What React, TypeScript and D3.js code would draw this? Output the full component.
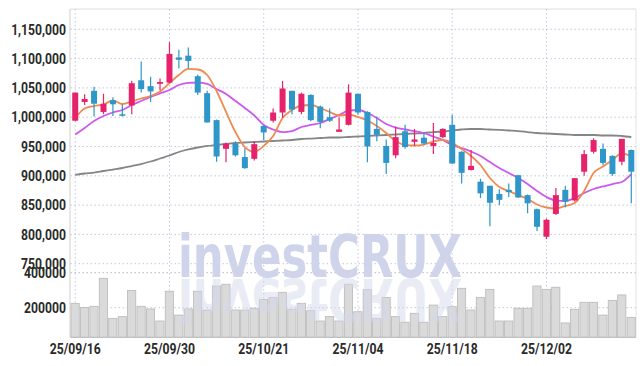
import React from 'react'
import * as d3 from 'd3'

// trading days shown (yy/mm/dd)
const dates = [
  '25/09/16', '25/09/17', '25/09/18', '25/09/19', '25/09/22', '25/09/23', '25/09/24', '25/09/25', '25/09/26', '25/09/29',
  '25/09/30', '25/10/01', '25/10/02', '25/10/10', '25/10/13', '25/10/14', '25/10/15', '25/10/16', '25/10/17', '25/10/20',
  '25/10/21', '25/10/22', '25/10/23', '25/10/24', '25/10/27', '25/10/28', '25/10/29', '25/10/30', '25/10/31', '25/11/03',
  '25/11/04', '25/11/05', '25/11/06', '25/11/07', '25/11/10', '25/11/11', '25/11/12', '25/11/13', '25/11/14', '25/11/17',
  '25/11/18', '25/11/19', '25/11/20', '25/11/21', '25/11/24', '25/11/25', '25/11/26', '25/11/27', '25/11/28', '25/12/01',
  '25/12/02', '25/12/03', '25/12/04', '25/12/05', '25/12/08', '25/12/09', '25/12/10', '25/12/11', '25/12/12', '25/12/15',
]

const open = [
  994000, 1026000, 1045000, 1009000, 1029000, 1005000, 1020000, 1063000, 1053000, 1057000,
  1059000, 1102000, 1105000, 1070000, 1041000, 995000, 946000, 955000, 932000, 929000,
  985000, 994000, 1008000, 1045000, 1009000, 1038000, 1018000, 1000000, 975000, 987000,
  1040000, 1009000, 980000, 951000, 935000, 976000, 958000, 965000, 951000, 966000,
  987000, 941000, 910000, 890000, 883000, 869000, 876000, 901000, 867000, 843000,
  796000, 835000, 876000, 858000, 907000, 941000, 946000, 934000, 924000, 944000,
]
const high = [
  1042000, 1039000, 1052000, 1040000, 1034000, 1022000, 1062000, 1095000, 1069000, 1066000,
  1128000, 1115000, 1119000, 1073000, 1045000, 996000, 957000, 959000, 947000, 958000,
  987000, 1015000, 1062000, 1045000, 1042000, 1039000, 1020000, 1015000, 1000000, 1056000,
  1040000, 1010000, 1001000, 962000, 984000, 987000, 980000, 973000, 990000, 981000,
  1004000, 942000, 944000, 895000, 883000, 877000, 887000, 902000, 868000, 844000,
  827000, 879000, 883000, 896000, 944000, 964000, 955000, 935000, 963000, 945000,
]
const low = [
  993000, 1021000, 1001000, 1005000, 1002000, 1001000, 1005000, 1042000, 1026000, 1046000,
  1058000, 1083000, 1083000, 1038000, 991000, 924000, 923000, 933000, 912000, 926000,
  961000, 991000, 999000, 1005000, 1005000, 993000, 981000, 992000, 975000, 986000,
  1004000, 923000, 959000, 903000, 930000, 946000, 951000, 953000, 937000, 964000,
  920000, 887000, 909000, 862000, 814000, 850000, 864000, 862000, 836000, 806000,
  792000, 833000, 846000, 856000, 900000, 938000, 918000, 900000, 918000, 853000,
]
const close = [
  1042000, 1031000, 1023000, 1023000, 1022000, 1004000, 1058000, 1048000, 1044000, 1060000,
  1108000, 1098000, 1096000, 1042000, 991000, 933000, 955000, 935000, 913000, 954000,
  974000, 1008000, 1049000, 1013000, 1040000, 995000, 992000, 994000, 979000, 1042000,
  1008000, 950000, 970000, 922000, 966000, 949000, 962000, 955000, 956000, 980000,
  921000, 905000, 917000, 870000, 854000, 859000, 872000, 863000, 853000, 813000,
  825000, 867000, 856000, 896000, 937000, 961000, 922000, 903000, 963000, 907000,
]
const volume = [
  225000, 202000, 208000, 368000, 139000, 149000, 299000, 208000, 193000, 124000,
  294000, 158000, 193000, 294000, 187000, 324000, 334000, 187000, 187000, 197000,
  248000, 259000, 288000, 191000, 225000, 183000, 124000, 149000, 124000, 334000,
  177000, 303000, 139000, 259000, 149000, 117000, 168000, 117000, 215000, 149000,
  206000, 311000, 187000, 259000, 305000, 124000, 124000, 197000, 197000, 324000,
  305000, 317000, 113000, 191000, 231000, 231000, 158000, 242000, 273000, 145000,
]

// moving averages
const ma5 = [
  998600, 1014800, 1019100, 1021700, 1028500, 1022500, 1026800, 1031900, 1036200, 1043900,
  1058400, 1072000, 1082300, 1081400, 1072000, 1044700, 1008900, 974700, 949100, 941100,
  950900, 967900, 998600, 1012300, 1020000, 1020800, 1015700, 1008900, 1002900, 1004600,
  1000300, 994400, 985000, 973000, 959400, 952600, 951700, 953400, 958500, 961100,
  956000, 945700, 933800, 918400, 896200, 880900, 874100, 867200, 860400, 851000,
  845900, 844200, 848500, 853600, 874100, 904800, 915900, 927000, 938100, 933000,
]
const ma20 = [
  970500, 981600, 993500, 1002000, 1008000, 1012300, 1020800, 1027600, 1034500, 1040400,
  1046400, 1054900, 1058400, 1059200, 1056700, 1048100, 1039600, 1027600, 1015700, 1002900,
  986700, 979000, 974700, 976400, 983300, 986700, 990100, 996900, 1003800, 1011400,
  1012300, 1007200, 998600, 988400, 982400, 979000, 976400, 973000, 967100, 961100,
  952600, 947400, 941500, 933800, 923500, 913300, 904800, 896200, 886000, 874100,
  863800, 857800, 857000, 862100, 870700, 877500, 881800, 886000, 889500, 903000,
]
const ma60 = [
  901400, 903900, 905600, 908200, 910700, 913300, 916700, 920100, 924400, 929500,
  934600, 940600, 944900, 948300, 950900, 952600, 954300, 956000, 956800, 957700,
  958500, 959400, 960200, 961100, 962800, 963600, 964500, 965400, 965400, 966200,
  967100, 967900, 968800, 969600, 970500, 971300, 972200, 973000, 974700, 975600,
  977300, 979000, 979900, 979900, 979000, 978200, 977300, 976400, 974700, 973000,
  972200, 971300, 970500, 969600, 969600, 969600, 968800, 968800, 967900, 966200,
]

const priceTicks = [750000, 800000, 850000, 900000, 950000, 1000000, 1050000, 1100000, 1150000]
const volumeTicks = [200000, 400000]
const dateTickIndex = [0, 10, 20, 30, 40, 50]

const W = 644
const H = 366
const left = 70.5
const right = 636
const top = 9
const volTop = 272.7
const volBottom = 337.3

const UP = '#e6226a'
const DOWN = '#2e96c8'
const GRID = '#c6c8dc'
const FONT = "Roboto, 'Liberation Sans', sans-serif"
const SQUEEZE = 0.84

export default function App() {
  const x = d3.scaleBand<string>().domain(dates).range([left, right]).paddingInner(0)
  const bw = x.bandwidth()
  const cx = (i: number) => (x(dates[i]) || 0) + bw / 2

  const y = d3.scaleLinear().domain([750000, 1150000]).range([263.7, 29.3])
  const yv = d3.scaleLinear().domain([200000, 400000]).range([307.7, volTop])

  const maLine = (vals: number[]) =>
    d3
      .line<number>()
      .x((_, i) => cx(i))
      .y((v) => y(v))
      .curve(d3.curveMonotoneX)(vals) || ''

  const fmt = d3.format(',')

  return (
    <div style={{ position: 'absolute', left: 0, top: 0 }}>
      <svg width={W} height={H} style={{ display: 'block', background: '#fff' }}>
        {/* frame */}
        <line x1={left} x2={right} y1={top} y2={top} stroke='#dedede' />
        <line x1={right} x2={right} y1={top} y2={volBottom} stroke='#e4e4e4' />
        <line x1={left - 0.5} x2={left - 0.5} y1={top} y2={volBottom} stroke='#cfcfcf' />

        {/* price grid */}
        {priceTicks.map((t) => (
          <line key={`pg-${t}`} x1={left} x2={right} y1={y(t)} y2={y(t)} stroke={GRID} strokeDasharray='1.5,2.5' />
        ))}
        {volumeTicks.map((t) => (
          <line key={`vg-${t}`} x1={left} x2={right} y1={yv(t)} y2={yv(t)} stroke={t === 400000 ? '#b9bbc8' : GRID} strokeDasharray='1.5,2.5' />
        ))}
        {dateTickIndex.map((i) => (
          <line key={`xg-${i}`} x1={cx(i)} x2={cx(i)} y1={top} y2={volBottom} stroke={GRID} strokeDasharray='1.5,2.5' />
        ))}

        {/* volume */}
        {volume.map((v, i) => (
          <rect
            key={`vol-${i}`}
            x={(x(dates[i]) || 0) + 0.5}
            y={yv(v)}
            width={bw - 1.2}
            height={volBottom - yv(v)}
            fill='#dadada'
            stroke='#b8b8b8'
            strokeWidth={0.8}
          />
        ))}
        <line x1={left} x2={right} y1={volBottom} y2={volBottom} stroke='#bdbdbd' />

        {/* watermark */}
        <g fontFamily="'DejaVu Sans', sans-serif" fontWeight='bold' fontSize={58}>
          <text x={178} y={277} textLength={284} lengthAdjust='spacingAndGlyphs' fill='#cfd4ea'>
            investCRUX
          </text>
          <text
            x={178}
            y={-279}
            transform='scale(1,-1)'
            textLength={284}
            lengthAdjust='spacingAndGlyphs'
            fill='#d3d8ec'
            fillOpacity={0.5}
          >
            investCRUX
          </text>
        </g>

        {/* moving averages */}
        <path d={maLine(ma60)} fill='none' stroke='#858585' strokeWidth={1.8} />
        <path d={maLine(ma20)} fill='none' stroke='#cc58ee' strokeWidth={1.8} />
        <path d={maLine(ma5)} fill='none' stroke='#ef8a50' strokeWidth={1.8} />

        {/* candles */}
        {dates.map((d, i) => {
          const up = close[i] >= open[i]
          const c = up ? UP : DOWN
          const yTop = y(Math.max(open[i], close[i]))
          const yBot = y(Math.min(open[i], close[i]))
          return (
            <g key={`c-${d}`}>
              <line x1={cx(i)} x2={cx(i)} y1={y(high[i])} y2={y(low[i])} stroke={c} strokeWidth={1.2} />
              <rect x={cx(i) - 3} y={yTop} width={6} height={Math.max(yBot - yTop, 1.5)} fill={c} />
            </g>
          )
        })}

        {/* axis labels */}
        <g fontFamily={FONT} fontWeight='bold' fontSize={14.5} fill='#2a2a2a'>
          {priceTicks.map((t) => (
            <text key={`pl-${t}`} transform={`translate(66,${y(t)}) scale(${SQUEEZE},1)`} dy='0.36em' textAnchor='end'>
              {fmt(t)}
            </text>
          ))}
          {volumeTicks.map((t) => (
            <text key={`vl-${t}`} transform={`translate(66,${yv(t)}) scale(${SQUEEZE},1)`} dy='0.36em' textAnchor='end'>
              {t}
            </text>
          ))}
          {dateTickIndex.map((i) => (
            <text key={`xl-${i}`} transform={`translate(${cx(i)},354) scale(${SQUEEZE},1)`} textAnchor='middle'>
              {dates[i]}
            </text>
          ))}
        </g>
      </svg>
    </div>
  )
}
